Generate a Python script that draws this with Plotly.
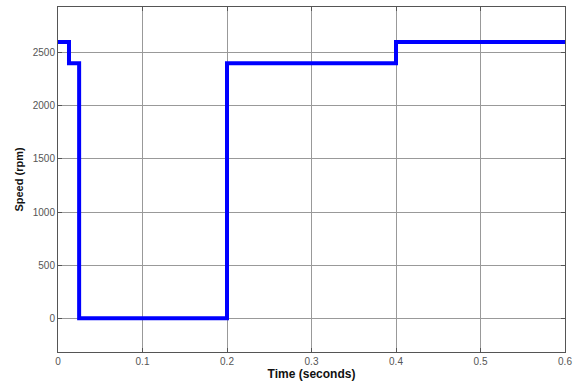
import plotly.graph_objects as go

time_s = [0.0, 0.013, 0.013, 0.025, 0.025, 0.2, 0.2, 0.4, 0.4, 0.6]
speed_rpm = [2600, 2600, 2400, 2400, 0, 0, 2400, 2400, 2600, 2600]
x_ticks = [0, 0.1, 0.2, 0.3, 0.4, 0.5, 0.6]
x_tick_text = ["0", "0.1", "0.2", "0.3", "0.4", "0.5", "0.6"]
y_ticks = [0, 500, 1000, 1500, 2000, 2500]

fig = go.Figure()
fig.add_trace(go.Scatter(x=time_s, y=speed_rpm, mode="lines",
                         line=dict(color="#0000ff", width=4), showlegend=False))

fig.update_layout(
    width=578, height=381,
    margin=dict(l=58, r=10, t=6, b=27),
    paper_bgcolor="white", plot_bgcolor="white",
    font=dict(family="Liberation Sans, Arial", color="#444"),
    xaxis=dict(range=[0, 0.6], tickvals=x_ticks, ticktext=x_tick_text,
               showgrid=True, gridcolor="#999", gridwidth=1,
               ticks="inside", ticklen=4, tickcolor="#555",
               showline=True, linecolor="#555", linewidth=1, mirror="allticks",
               zeroline=False, tickfont=dict(size=10, color="#555"),
               title=dict(text="<b>Time (seconds)</b>", font=dict(size=12, color="#111"), standoff=0)),
    yaxis=dict(range=[-318, 2930], tickvals=y_ticks,
               showgrid=True, gridcolor="#999", gridwidth=1,
               ticks="inside", ticklen=4, tickcolor="#555",
               showline=True, linecolor="#555", linewidth=1, mirror="allticks",
               zeroline=False, tickfont=dict(size=10, color="#555"),
               title=dict(text="<b>Speed (rpm)</b>", font=dict(size=11, color="#111"), standoff=6)),
)
fig.write_html("out.html")
